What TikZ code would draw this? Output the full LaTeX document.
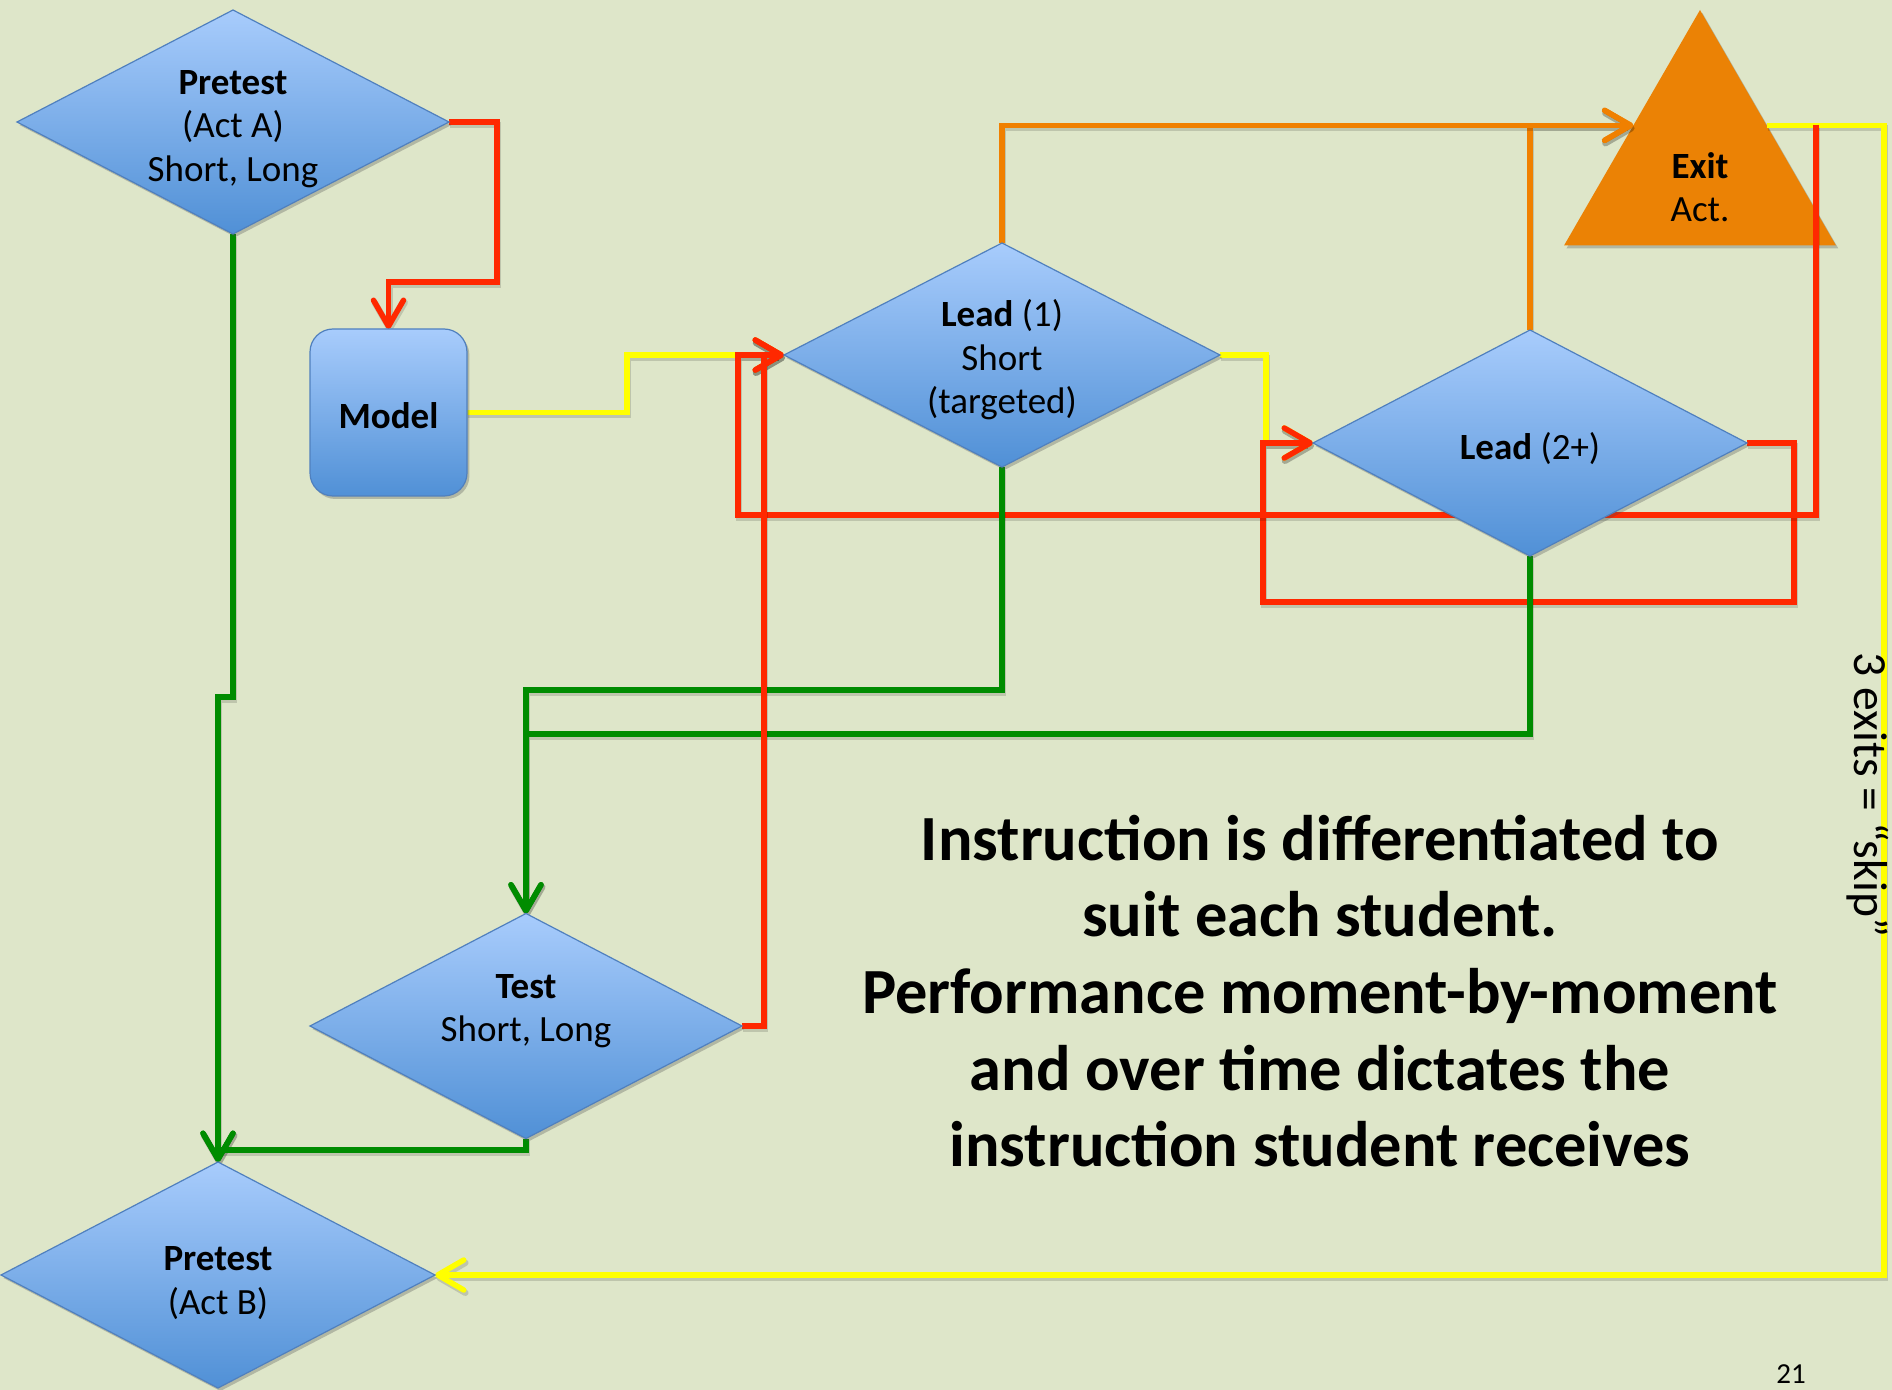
\documentclass[tikz,border=0pt]{standalone}
\usepackage{fontspec}
\setmainfont{Carlito}
\usetikzlibrary{shapes.geometric,arrows.meta,calc,shadows}
\definecolor{bgc}{RGB}{222,230,201}
\definecolor{cred}{RGB}{255,40,0}
\definecolor{corange}{RGB}{240,128,0}
\definecolor{ctri}{RGB}{235,130,5}
\definecolor{cyellow}{RGB}{255,255,0}
\definecolor{cgreen}{RGB}{0,140,0}
\definecolor{diaT}{RGB}{168,204,252}
\definecolor{diaBot}{RGB}{80,144,214}
\definecolor{diaB}{RGB}{80,128,190}
\pgfdeclarelayer{bgl}
\pgfdeclarelayer{tri}
\pgfdeclarelayer{lines}
\pgfsetlayers{bgl,tri,lines,main}
\begin{document}
\begin{tikzpicture}[x=0.5pt,y=-0.5pt,
  shad/.style={drop shadow={shadow xshift=1.2pt,shadow yshift=-1.5pt,opacity=0.3,fill=black!70}},
  dia/.style={diamond,draw=diaB,line width=0.6pt,top color=diaT,bottom color=diaBot,inner sep=0pt,outer sep=0pt,shad},
  mdl/.style={rectangle,rounded corners=11.5pt,draw=diaB,line width=0.6pt,top color=diaT,bottom color=diaBot,inner sep=0pt,outer sep=0pt,shad},
  trishape/.style={regular polygon,regular polygon sides=3,fill=ctri,inner sep=0pt,outer sep=0pt,minimum size=157pt,shad},
  lbl/.style={align=center,inner sep=0pt,font=\fontsize{18.5}{21.8}\selectfont},
  conn/.style={line width=2.75pt,line join=miter,
    preaction={draw=black,draw opacity=0.14,line width=3.2pt,transform canvas={xshift=0.6pt,yshift=-1.4pt}}},
  arr/.style={-{Straight Barb[round,length=13pt,width=15pt]}}]
\begin{pgfonlayer}{bgl}
\fill[bgc] (0,0) rectangle (1892,1390);
\end{pgfonlayer}
\useasboundingbox (0,0) rectangle (1892,1390);

% nodes
\node[dia,minimum width=216pt,minimum height=112pt] (pa) at (233,122) {};
\node[lbl] (pat) at (233,129) {\textbf{Pretest}\\(Act A)\\Short, Long};
\node[mdl,minimum width=78.5pt,minimum height=83.5pt] (md) at (388.5,412.5) {};
\node[lbl] (mdt) at (388.5,416) {\textbf{Model}};
\node[dia,minimum width=218pt,minimum height=112pt] (l1) at (1002,355) {};
\node[lbl] (l1t) at (1002,360) {\textbf{Lead} (1)\\Short\\(targeted)};
\node[dia,minimum width=217pt,minimum height=113pt] (l2) at (1530,443) {};
\node[lbl] (l2t) at (1530,449) {\textbf{Lead} (2+)};
\node[dia,minimum width=216pt,minimum height=112.5pt] (te) at (526,1026) {};
\node[lbl] (tet) at (526,1011) {\textbf{Test}\\Short, Long};
\node[dia,minimum width=217pt,minimum height=113pt] (pb) at (218,1275) {};
\node[lbl] (pbt) at (218,1283) {\textbf{Pretest}\\(Act B)};
\begin{pgfonlayer}{tri}
\node[trishape] (ex) at (1700,167) {};
\end{pgfonlayer}
\node[lbl] (ext) at (1700,187) {\textbf{Exit}\\Act.};
\coordinate (exL) at ($(ex.corner 1)!0.49!(ex.corner 2)$);
\coordinate (exR) at ($(ex.corner 1)!0.49!(ex.corner 3)$);
\coordinate (rs) at (1816,125);

\node[align=center,inner sep=0pt,font=\fontsize{32.2}{38.3}\selectfont\bfseries] (mt) at (1320,991)
  {Instruction is differentiated to\\suit each student.\\Performance moment-by-moment\\and over time dictates the\\instruction student receives};
\node[rotate=-90,inner sep=0pt,font=\fontsize{23.8}{27}\selectfont] (sk) at (1868,795) {3 exits = “skip”};
\node[inner sep=0pt,font=\fontsize{14.5}{16}\selectfont] (pg) at (1791,1374) {21};

% connectors
\begin{pgfonlayer}{lines}
\draw[conn,cred,arr] (pa.east) -| (497,282) -| (md.north);
\draw[conn,cyellow,arr] (md.east) -| (627,355) -- (l1.west);
\draw[conn,corange,arr] (l2.north) |- (exL);
\draw[conn,corange,arr] (l1.north) |- (exL);
\draw[conn,cyellow,arr] (l1.east) -| (1266,443) -- (l2.west);
\draw[conn,cred,arr] (l2.east) -| (1794,602) -| (1263,443) -- (l2.west);
\draw[conn,cyellow,arr] (exR) -| (1884,1275) -- (pb.east);
\draw[conn,cred,arr] (rs) -- (1816,515) -| (738,355) -- (l1.west);
\draw[conn,cgreen,arr] (l1.south) |- (526,690) -- (te.north);
\draw[conn,cgreen,arr] (l2.south) |- (526,734) -- (te.north);
\draw[conn,cred,arr] (te.east) -| (764,355) -- (l1.west);
\draw[conn,cgreen,arr] (pa.south) -- (233,697) -| (pb.north);
\draw[conn,cgreen,arr] (te.south) |- (218,1150) -- (pb.north);
\end{pgfonlayer}
\end{tikzpicture}
\end{document}
